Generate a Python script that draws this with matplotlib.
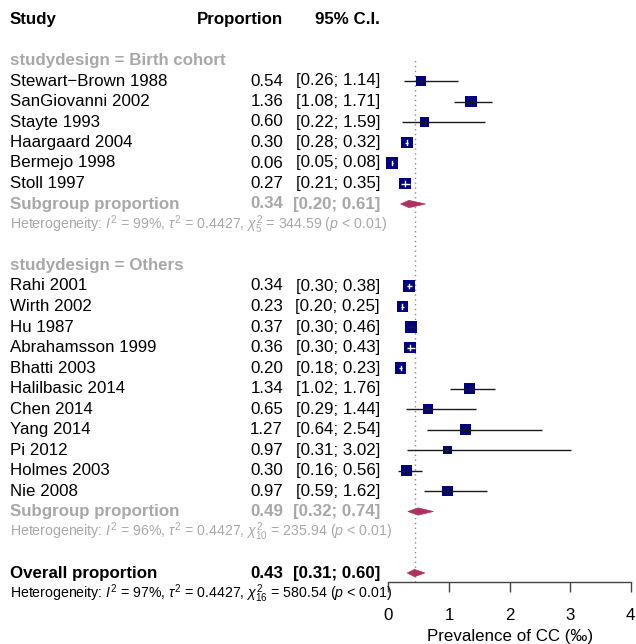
import matplotlib
matplotlib.use("Agg")
import matplotlib.pyplot as plt
from matplotlib.patches import Polygon
from matplotlib.transforms import blended_transform_factory
import numpy as np

plt.rcParams['font.family'] = ['Liberation Sans', 'DejaVu Sans']
plt.rcParams['mathtext.fontset'] = 'custom'
plt.rcParams['mathtext.rm'] = 'Liberation Sans'
plt.rcParams['mathtext.it'] = 'Liberation Sans:italic'
plt.rcParams['mathtext.bf'] = 'Liberation Sans:bold'

# ---------------- data ----------------
groups = ["Birth cohort", "Others"]
studies_birth = ["Stewart−Brown 1988", "SanGiovanni 2002", "Stayte 1993",
                 "Haargaard 2004", "Bermejo 1998", "Stoll 1997"]
prop_birth = [0.54, 1.36, 0.60, 0.30, 0.06, 0.27]
lower_birth = [0.26, 1.08, 0.22, 0.28, 0.05, 0.21]
upper_birth = [1.14, 1.71, 1.59, 0.32, 0.08, 0.35]
weight_birth = [5.1, 6.5, 4.2, 6.7, 6.5, 6.4]

studies_other = ["Rahi 2001", "Wirth 2002", "Hu 1987", "Abrahamsson 1999",
                 "Bhatti 2003", "Halilbasic 2014", "Chen 2014", "Yang 2014",
                 "Pi 2012", "Holmes 2003", "Nie 2008"]
prop_other = [0.34, 0.23, 0.37, 0.36, 0.20, 1.34, 0.65, 1.27, 0.97, 0.30, 0.97]
lower_other = [0.30, 0.20, 0.30, 0.30, 0.18, 1.02, 0.29, 0.64, 0.31, 0.16, 0.59]
upper_other = [0.38, 0.25, 0.46, 0.43, 0.23, 1.76, 1.44, 2.54, 3.02, 0.56, 1.62]
weight_other = [6.6, 6.6, 6.5, 6.6, 6.6, 6.4, 4.9, 5.2, 3.8, 5.4, 5.8]

sub_est = [0.34, 0.49]
sub_lower = [0.20, 0.32]
sub_upper = [0.61, 0.74]
sub_het = [r"Heterogeneity: $I^2$ = 99%, $\tau^2$ = 0.4427, $\chi^2_{5}$ = 344.59 ($p$ < 0.01)",
           r"Heterogeneity: $I^2$ = 96%, $\tau^2$ = 0.4427, $\chi^2_{10}$ = 235.94 ($p$ < 0.01)"]

overall_est, overall_lower, overall_upper = 0.43, 0.31, 0.60
overall_het = r"Heterogeneity: $I^2$ = 97%, $\tau^2$ = 0.4427, $\chi^2_{16}$ = 580.54 ($p$ < 0.01)"

xticks = [0, 1, 2, 3, 4]
xlabel = "Prevalence of CC (‰)"

# ---------------- layout ----------------
W, H = 636, 644
fig = plt.figure(figsize=(W / 100, H / 100), dpi=100)
ax_left, ax_right = 388.5, 630.7
ax_top, ax_bot = 52, 582
row0, rowh = 81, 20.5
ax = fig.add_axes([ax_left / W, (H - ax_bot) / H, (ax_right - ax_left) / W, (ax_bot - ax_top) / H])
ax.set_xlim(0, 4)
ax.set_ylim((ax_bot - row0) / rowh, (ax_top - row0) / rowh)
ax.patch.set_alpha(0)

tr = blended_transform_factory(fig.transFigure, ax.transData)
x_lab = 10 / W
x_prop = 283 / W
x_ci = 380 / W

GRAY = "#A8A8A8"
NAVY = "#000080"
DIAM = "#B03060"
FS = 12.2
FS_HET = 10.2

px_per_x = (ax_right - ax_left) / 4.0
px_per_row = rowh
max_side = 11.7  # px for largest weight
max_w = max(weight_birth + weight_other)


def fmt_ci(lo, hi):
    return f"[{lo:.2f}; {hi:.2f}]"


def draw_study(r, name, est, lo, hi, w):
    ax.text(x_lab, r, name, transform=tr, ha="left", va="center", fontsize=FS)
    ax.text(x_prop, r, f"{est:.2f}", transform=tr, ha="right", va="center", fontsize=FS)
    ax.text(x_ci, r, fmt_ci(lo, hi), transform=tr, ha="right", va="center", fontsize=FS)
    side_px = max_side * np.sqrt(w / max_w)
    half_x = side_px / 2 / px_per_x
    inside = (est - lo) < 0.9 * half_x and (hi - est) < 0.9 * half_x
    # CI line
    ax.plot([lo, hi], [r, r], color="#1a1a1a", lw=1.0, solid_capstyle="butt", clip_on=False, zorder=2)
    # square
    side_pt = side_px * 0.72
    ax.scatter([est], [r], s=side_pt ** 2, marker="s", color=NAVY, edgecolors="none", zorder=3, clip_on=False)
    lc = "white" if inside else "#1a1a1a"
    ax.plot([max(lo, est - half_x), min(hi, est + half_x)], [r, r], color=lc, lw=1.0,
            solid_capstyle="butt", clip_on=False, zorder=4)
    ax.plot([est, est], [r - 2.4 / px_per_row, r + 2.4 / px_per_row], color=lc, lw=1.0,
            clip_on=False, zorder=4)


def draw_diamond(r, est, lo, hi):
    h = 3.6 / px_per_row
    poly = Polygon([(lo, r), (est, r - h), (hi, r), (est, r + h)], closed=True,
                   facecolor=DIAM, edgecolor=DIAM, lw=0.5, zorder=3, clip_on=False)
    ax.add_patch(poly)


# header
ax.text(x_lab, -3, "Study", transform=tr, ha="left", va="center", fontsize=FS, fontweight="bold")
ax.text(x_prop, -3, "Proportion", transform=tr, ha="right", va="center", fontsize=FS, fontweight="bold")
ax.text(x_ci, -3, "95% C.I.", transform=tr, ha="right", va="center", fontsize=FS, fontweight="bold")

group_data = [
    (studies_birth, prop_birth, lower_birth, upper_birth, weight_birth),
    (studies_other, prop_other, lower_other, upper_other, weight_other),
]

r = -1
for gi, (names, ests, los, his, ws) in enumerate(group_data):
    ax.text(x_lab, r, f"studydesign = {groups[gi]}", transform=tr, ha="left", va="center",
            fontsize=FS, fontweight="bold", color=GRAY)
    r += 1
    for name, est, lo, hi, w in zip(names, ests, los, his, ws):
        draw_study(r, name, est, lo, hi, w)
        r += 1
    ax.text(x_lab, r, "Subgroup proportion", transform=tr, ha="left", va="center",
            fontsize=FS, fontweight="bold", color=GRAY)
    ax.text(x_prop, r, f"{sub_est[gi]:.2f}", transform=tr, ha="right", va="center",
            fontsize=FS, fontweight="bold", color=GRAY)
    ax.text(x_ci, r, fmt_ci(sub_lower[gi], sub_upper[gi]), transform=tr, ha="right", va="center",
            fontsize=FS, fontweight="bold", color=GRAY)
    draw_diamond(r, sub_est[gi], sub_lower[gi], sub_upper[gi])
    r += 1
    ax.text(x_lab, r, sub_het[gi], transform=tr, ha="left", va="center", fontsize=FS_HET, color=GRAY)
    r += 2

# overall
ax.text(x_lab, r, "Overall proportion", transform=tr, ha="left", va="center", fontsize=FS, fontweight="bold")
ax.text(x_prop, r, f"{overall_est:.2f}", transform=tr, ha="right", va="center", fontsize=FS, fontweight="bold")
ax.text(x_ci, r, fmt_ci(overall_lower, overall_upper), transform=tr, ha="right", va="center",
        fontsize=FS, fontweight="bold")
draw_diamond(r, overall_est, overall_lower, overall_upper)
r += 1
ax.text(x_lab, r, overall_het, transform=tr, ha="left", va="center", fontsize=FS_HET, color="black")

# reference line at overall estimate
ax.axvline(overall_est, color="#8c8c8c", lw=1.0, linestyle=(0, (1, 2.5)), zorder=1, ymax=0.99)

# axis
for s in ["top", "right", "left"]:
    ax.spines[s].set_visible(False)
ax.spines["bottom"].set_color("#444444")
ax.spines["bottom"].set_linewidth(1.0)
ax.spines["bottom"].set_bounds(0, 4)
ax.set_yticks([])
ax.set_xticks(xticks)
ax.set_xticklabels([str(t) for t in xticks], fontsize=FS)
ax.tick_params(axis="x", length=7.2, width=1.0, color="#444444", pad=11.5)
ax.set_xlabel(xlabel, fontsize=FS, labelpad=4.5)

fig.savefig("out.png", dpi=100)
